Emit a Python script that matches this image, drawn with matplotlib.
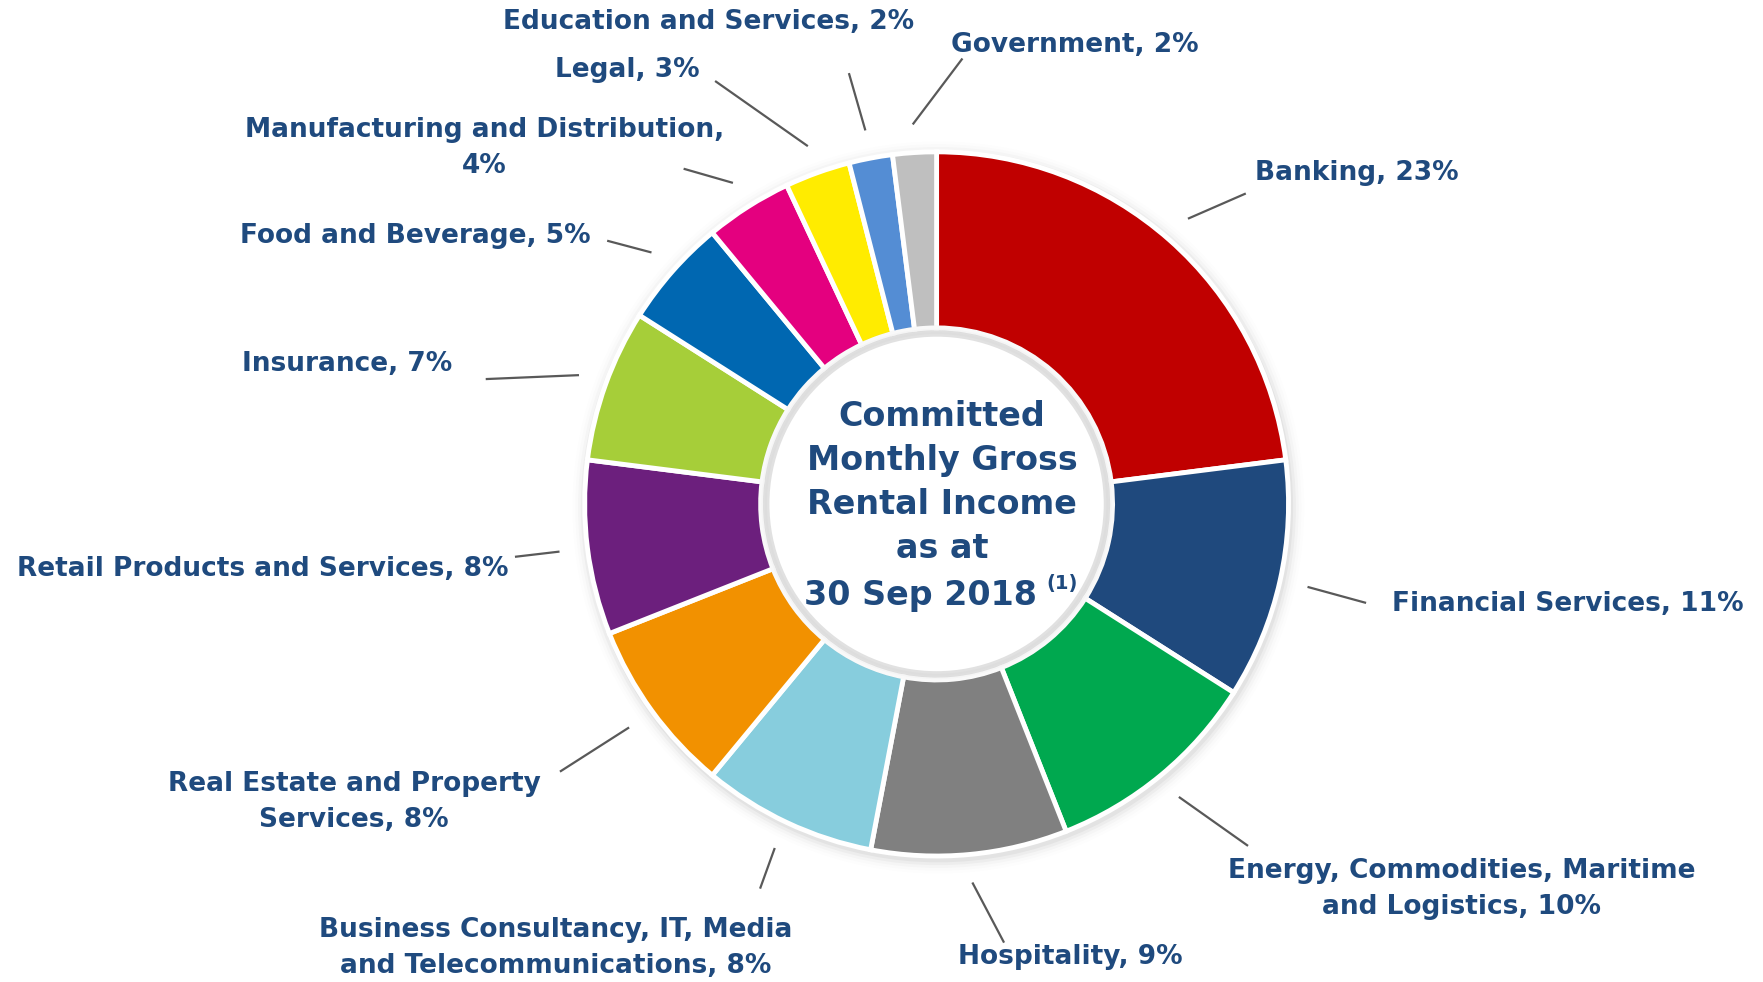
import matplotlib.pyplot as plt
import numpy as np

# tenant trade sectors, % of committed monthly gross rental income
sectors = ["Banking", "Financial Services", "Energy, Commodities, Maritime\nand Logistics",
           "Hospitality", "Business Consultancy, IT, Media\nand Telecommunications",
           "Real Estate and Property\nServices", "Retail Products and Services", "Insurance",
           "Food and Beverage", "Manufacturing and Distribution", "Legal",
           "Education and Services", "Government"]
shares = [23, 11, 10, 9, 8, 8, 8, 7, 5, 4, 3, 2, 2]
seps = [", ", ", ", ", ", ", ", ", ", ", ", ", ", ", ", ", ", ",\n", ", ", ", ", ", "]
colors = ["#C00000", "#1F497D", "#00A84F", "#808080", "#87CDDD", "#F29100", "#6C1F7D",
          "#A6CE39", "#0067B1", "#E4007F", "#FFEC00", "#548DD4", "#BFBFBF"]

center_title = "Committed\nMonthly Gross\nRental Income\nas at"
center_date = "30 Sep 2018"
center_note = "(1)"

# layout (reference pixel coords, 1568x873 view): label anchor, alignment, leader end
label_pos = [(1116, 154), (1238, 537), (1300, 790), (952, 851), (494, 843), (315, 713),
             (452, 506), (402, 324), (525, 210), (431, 132), (622, 62), (813, 20), (846, 40)]
label_ha = ["left", "left", "center", "center", "center", "center",
            "right", "right", "right", "center", "right", "right", "left"]
leader_end = [(1108, 172), (1215, 536), (1110, 752), (893, 838), (676, 790), (498, 686),
              (458, 495), (432, 337), (540, 214), (608, 150), (636, 72), (755, 65), (856, 52)]

CX, CY, R = 833, 448, 313
W, H = 1568, 873
TXT = "#1F4A7E"


def px(x, y):
    return (x - CX) / R, (CY - y) / R


fig = plt.figure(figsize=(17.63, 9.82), dpi=100)
ax = fig.add_axes([0, 0, 1, 1])

# soft shadow around the ring
for i, a in enumerate([0.04, 0.03, 0.02, 0.012, 0.006]):
    ax.add_patch(plt.Circle((0.005, -0.01), 1.0 + 0.008 * (i + 1), color='black', alpha=a, lw=0))

wedges, _ = ax.pie(shares, colors=colors, startangle=90, counterclock=False, radius=1.0,
                   wedgeprops=dict(width=0.5, edgecolor='white', linewidth=3.5))

# faint inner shadow of the hole
for i, a in enumerate([0.025, 0.015, 0.008]):
    ax.add_patch(plt.Circle((0, 0), 0.5 - 0.01 * i, fill=False, ec='black', alpha=a, lw=4))
ax.add_patch(plt.Circle((0, 0), 0.475, color='white', lw=0))

ax.set_xlim(-CX / R, (W - CX) / R)
ax.set_ylim(-(H - CY) / R, CY / R)
ax.set_aspect('auto')
ax.axis('off')

total = sum(shares)
cum = 0
for i, v in enumerate(shares):
    mid = np.deg2rad(90 - (cum + v / 2) / total * 360)
    cum += v
    x0, y0 = 1.08 * np.cos(mid), 1.08 * np.sin(mid)
    x1, y1 = px(*leader_end[i])
    ax.plot([x0, x1], [y0, y1], color='#595959', lw=1.6, solid_capstyle='butt')
    tx, ty = px(*label_pos[i])
    ax.text(tx, ty, f"{sectors[i]}{seps[i]}{v}%", ha=label_ha[i], va='center',
            multialignment='center', fontsize=19, fontweight='bold', color=TXT,
            family='DejaVu Sans', linespacing=1.5)

center_kw = dict(fontweight='bold', color=TXT, family='DejaVu Sans')
tx, ty = px(838, 429)
ax.text(tx, ty, center_title, ha='center', va='center', fontsize=24,
        linespacing=1.42, multialignment='center', **center_kw)
tx, ty = px(922, 529)
ax.text(tx, ty, center_date, ha='right', va='center', fontsize=24, **center_kw)
tx, ty = px(931, 519)
ax.text(tx, ty, center_note, ha='left', va='center', fontsize=14, **center_kw)

fig.savefig("out.png", dpi=100)
